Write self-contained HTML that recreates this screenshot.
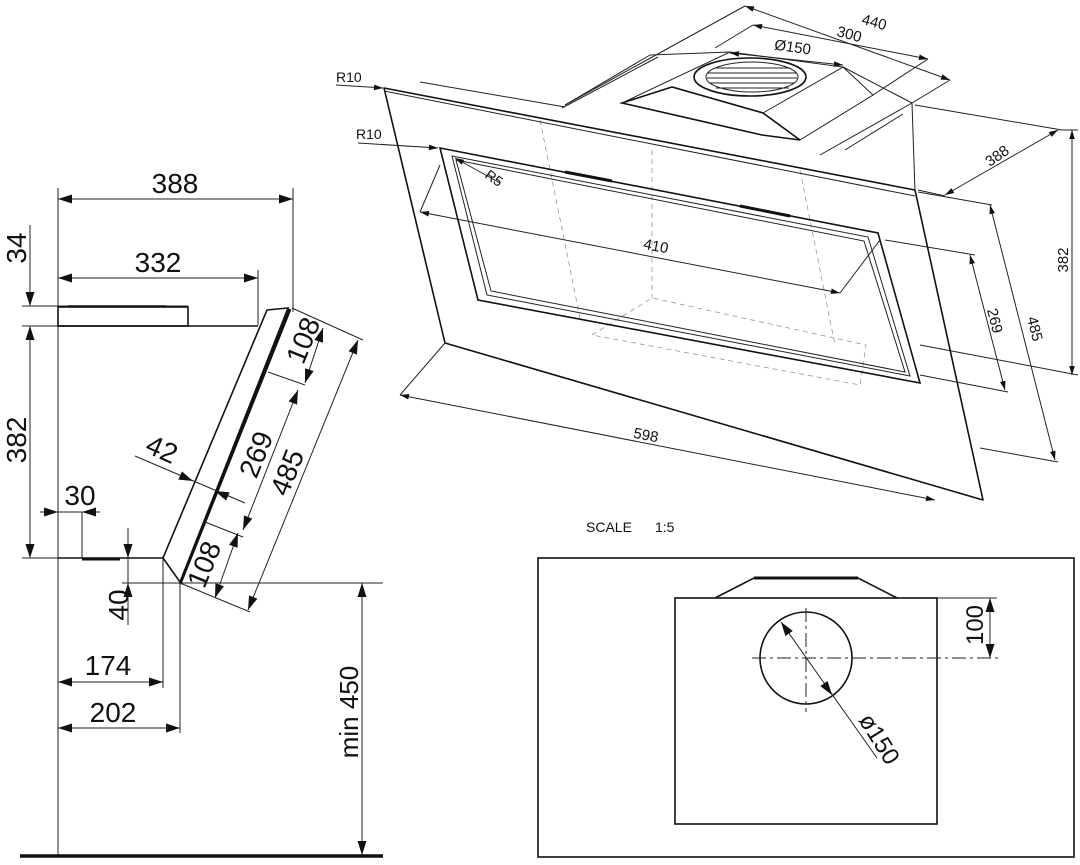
<!DOCTYPE html>
<html><head><meta charset="utf-8"><style>
html,body{margin:0;padding:0;background:#fff;}
svg{display:block}
text{font-family:"Liberation Sans",sans-serif;fill:#111}
.t{stroke:#222;stroke-width:1;fill:none}
.m{stroke:#111;stroke-width:1.6;fill:none}
.k{stroke:#111;stroke-width:3;fill:none}
.d{stroke:#999;stroke-width:0.8;fill:none;stroke-dasharray:5 4}
</style></head><body>
<svg width="1080" height="865" viewBox="0 0 1080 865" xmlns="http://www.w3.org/2000/svg">
<defs>
<path id="ah" d="M0,0 L-14,-4.5 L-14,4.5 z" fill="#111"/>
<path id="sh" d="M0,0 L-9,-2.8 L-9,2.8 z" fill="#111"/>
</defs>

<!-- ===== LEFT SIDE VIEW ===== -->
<line class="t" x1="58" y1="188" x2="58" y2="856"/>
<line class="t" x1="293" y1="188" x2="293" y2="312"/>
<line class="t" x1="258" y1="270" x2="258" y2="325"/>
<line class="t" x1="58" y1="199" x2="293" y2="199"/>
<use href="#ah" transform="translate(58,199) rotate(180)"/><use href="#ah" transform="translate(293,199)"/>
<text x="175" y="193" font-size="28" text-anchor="middle">388</text>
<line class="t" x1="58" y1="278" x2="258" y2="278"/>
<use href="#ah" transform="translate(58,278) rotate(180)"/><use href="#ah" transform="translate(258,278)"/>
<text x="158" y="272" font-size="28" text-anchor="middle">332</text>
<line class="t" x1="30" y1="225" x2="30" y2="306"/>
<use href="#ah" transform="translate(30,306) rotate(90)"/>
<line class="t" x1="30" y1="326" x2="30" y2="558"/>
<use href="#ah" transform="translate(30,326) rotate(-90)"/><use href="#ah" transform="translate(30,558) rotate(90)"/>
<line class="t" x1="22" y1="306" x2="188" y2="306"/>
<line class="t" x1="22" y1="326" x2="60" y2="326"/>
<line class="t" x1="22" y1="558" x2="60" y2="558"/>
<text transform="translate(26,248) rotate(-90)" font-size="28" text-anchor="middle">34</text>
<text transform="translate(26,440) rotate(-90)" font-size="28" text-anchor="middle">382</text>
<rect class="m" x="58" y="307" width="130" height="19"/>
<line class="m" x1="68" y1="306" x2="166" y2="306"/>
<line class="m" x1="58" y1="326" x2="258" y2="326"/>
<line class="m" x1="58" y1="558" x2="163" y2="558"/>
<line class="k" x1="82" y1="559" x2="120" y2="559"/>
<polygon class="m" points="267,310 288,308 180,582 163,558"/>
<line class="k" x1="290" y1="309" x2="180" y2="584"/>
<line class="t" x1="40" y1="512" x2="100" y2="512"/>
<use href="#ah" transform="translate(58,512)"/><use href="#ah" transform="translate(82,512) rotate(180)"/>
<line class="t" x1="82" y1="512" x2="82" y2="558"/>
<text x="80" y="505" font-size="28" text-anchor="middle">30</text>
<line class="t" x1="128" y1="528" x2="128" y2="625"/>
<use href="#ah" transform="translate(128,558) rotate(90)"/><use href="#ah" transform="translate(128,583) rotate(-90)"/>
<line class="t" x1="122" y1="583" x2="383" y2="583"/>
<text transform="translate(128,605) rotate(-90)" font-size="28" text-anchor="middle">40</text>
<line class="t" x1="163" y1="558" x2="163" y2="688"/>
<line class="t" x1="180" y1="583" x2="180" y2="733"/>
<line class="t" x1="58" y1="682" x2="163" y2="682"/>
<use href="#ah" transform="translate(58,682) rotate(180)"/><use href="#ah" transform="translate(163,682)"/>
<text x="108" y="675" font-size="28" text-anchor="middle">174</text>
<line class="t" x1="58" y1="728" x2="180" y2="728"/>
<use href="#ah" transform="translate(58,728) rotate(180)"/><use href="#ah" transform="translate(180,728)"/>
<text x="113" y="722" font-size="28" text-anchor="middle">202</text>
<line class="t" x1="362" y1="583" x2="362" y2="856"/>
<use href="#ah" transform="translate(362,583) rotate(-90)"/><use href="#ah" transform="translate(362,855) rotate(90)"/>
<text transform="translate(358,712) rotate(-90)" font-size="26" text-anchor="middle">min 450</text>
<line x1="20" y1="856" x2="383" y2="856" stroke="#111" stroke-width="3.5"/>
<line class="t" x1="292" y1="308" x2="363" y2="340"/>
<line class="t" x1="180" y1="583" x2="250" y2="612"/>
<line class="t" x1="268" y1="372" x2="305" y2="385"/>
<line class="t" x1="205" y1="522" x2="243" y2="537"/>
<line class="t" x1="358" y1="340" x2="248" y2="610"/>
<use href="#ah" transform="translate(358,340) rotate(-68)"/><use href="#ah" transform="translate(248,610) rotate(112)"/>
<text transform="translate(296,476) rotate(-68)" font-size="28" text-anchor="middle">485</text>
<line class="t" x1="323" y1="328" x2="305" y2="383"/>
<use href="#ah" transform="translate(323,328) rotate(-72)"/><use href="#ah" transform="translate(305,383) rotate(108)"/>
<text transform="translate(312,344) rotate(-68)" font-size="28" text-anchor="middle">108</text>
<line class="t" x1="298" y1="390" x2="243" y2="530"/>
<use href="#ah" transform="translate(298,390) rotate(-68.5)"/><use href="#ah" transform="translate(243,530) rotate(111.5)"/>
<text transform="translate(265,458) rotate(-68)" font-size="28" text-anchor="middle">269</text>
<line class="t" x1="238" y1="533" x2="215" y2="598"/>
<use href="#ah" transform="translate(238,533) rotate(-70.5)"/><use href="#ah" transform="translate(215,598) rotate(109.5)"/>
<text transform="translate(213,568) rotate(-68)" font-size="28" text-anchor="middle">108</text>
<line class="t" x1="135" y1="456" x2="245" y2="503"/>
<use href="#ah" transform="translate(193,481) rotate(23.3)"/><use href="#ah" transform="translate(215,491) rotate(203.3)"/>
<text transform="translate(158,458) rotate(24)" font-size="28" text-anchor="middle">42</text>

<!-- ===== ISOMETRIC VIEW ===== -->
<line class="d" x1="540" y1="120" x2="580" y2="318"/>
<line class="d" x1="800" y1="170" x2="835" y2="345"/>
<line class="d" x1="652" y1="150" x2="652" y2="298"/>
<polyline class="d" points="592,335 652,298 866,345 860,385 592,335"/>
<polyline class="t" points="565,105 650,55"/>
<polyline class="t" points="562,108 658,57"/>
<line class="t" x1="420" y1="82" x2="565" y2="107"/>
<line class="t" x1="845" y1="150" x2="903" y2="114"/>
<line class="t" x1="820" y1="155" x2="912" y2="103"/>
<line class="t" x1="912" y1="103" x2="915" y2="192"/>
<line class="t" x1="650" y1="55" x2="730" y2="52"/>
<line class="t" x1="843" y1="67" x2="912" y2="103"/>
<polygon class="m" points="622,103 672,87 763,113 800,140 762,135"/>
<polyline class="t" points="622,103 730,52 843,67 763,113"/>
<polyline class="t" points="843,67 873,95 800,140"/>
<ellipse cx="750" cy="77" rx="56" ry="19" class="m"/>
<ellipse cx="752" cy="77" rx="46" ry="15" class="t"/>
<g class="t">
<line x1="715" y1="68" x2="790" y2="68"/><line x1="708" y1="73" x2="796" y2="73"/>
<line x1="707" y1="78" x2="797" y2="78"/><line x1="709" y1="83" x2="795" y2="83"/>
<line x1="716" y1="88" x2="789" y2="88"/>
</g>
<polygon class="m" points="384,88 915,190 983,500 445,343" stroke-linejoin="round"/>
<line class="t" x1="384" y1="91" x2="915" y2="196"/>
<polygon class="m" points="440,148 878,233 920,383 478,300"/>
<polygon class="t" points="452,156 868,237 910,376 487,295"/>
<polygon class="t" points="456,160 864,241 905,372 491,291"/>
<line class="k" x1="565" y1="172" x2="612" y2="181" stroke-width="2.5"/>
<line class="k" x1="740" y1="206" x2="790" y2="216" stroke-width="2.5"/>
<line class="t" x1="745" y1="6" x2="950" y2="80"/>
<use href="#sh" transform="translate(745,6) rotate(199.9)"/><use href="#sh" transform="translate(950,80) rotate(19.9)"/>
<line class="t" x1="745" y1="6" x2="565" y2="105"/>
<line class="t" x1="950" y1="80" x2="912" y2="103"/>
<text transform="translate(873,27) rotate(15)" font-size="15" text-anchor="middle">440</text>
<line class="t" x1="753" y1="25" x2="928" y2="59"/>
<use href="#sh" transform="translate(753,25) rotate(191)"/><use href="#sh" transform="translate(928,59) rotate(11)"/>
<line class="t" x1="753" y1="25" x2="715" y2="48"/>
<line class="t" x1="928" y1="59" x2="873" y2="95"/>
<text transform="translate(848,39) rotate(15)" font-size="15" text-anchor="middle">300</text>
<line class="t" x1="730" y1="53" x2="843" y2="65"/>
<use href="#sh" transform="translate(730,53) rotate(186)"/><use href="#sh" transform="translate(843,65) rotate(6)"/>
<text transform="translate(792,52) rotate(8)" font-size="15" text-anchor="middle">Ø150</text>
<line class="t" x1="336" y1="85" x2="383" y2="88"/>
<use href="#sh" transform="translate(383,88) rotate(3.7)"/>
<text x="336" y="82" font-size="14">R10</text>
<line class="t" x1="358" y1="143" x2="438" y2="148"/>
<use href="#sh" transform="translate(438,148) rotate(3.6)"/>
<text x="356" y="139" font-size="14">R10</text>
<line class="t" x1="500" y1="183" x2="455" y2="158"/>
<use href="#sh" transform="translate(455,158) rotate(209)"/>
<text transform="translate(484,177) rotate(35)" font-size="14">R5</text>
<line class="t" x1="420" y1="212" x2="840" y2="293"/>
<use href="#sh" transform="translate(420,212) rotate(190.9)"/><use href="#sh" transform="translate(840,293) rotate(10.9)"/>
<line class="t" x1="420" y1="212" x2="440" y2="165"/>
<line class="t" x1="840" y1="293" x2="880" y2="240"/>
<text transform="translate(655,251) rotate(11)" font-size="15" text-anchor="middle">410</text>
<line class="t" x1="400" y1="395" x2="935" y2="500"/>
<use href="#sh" transform="translate(400,395) rotate(191.1)"/><use href="#sh" transform="translate(935,500) rotate(11.1)"/>
<line class="t" x1="400" y1="395" x2="445" y2="343"/>
<text transform="translate(645,440) rotate(11)" font-size="15" text-anchor="middle">598</text>
<line class="t" x1="945" y1="195" x2="1058" y2="130"/>
<use href="#sh" transform="translate(945,195) rotate(150.1)"/><use href="#sh" transform="translate(1058,130) rotate(-29.9)"/>
<line class="t" x1="918" y1="190" x2="945" y2="196"/>
<line class="t" x1="915" y1="105" x2="1062" y2="130"/>
<text transform="translate(1000,160) rotate(-35)" font-size="15" text-anchor="middle">388</text>
<line class="t" x1="1072" y1="130" x2="1072" y2="375"/>
<use href="#sh" transform="translate(1072,130) rotate(-90)"/><use href="#sh" transform="translate(1072,375) rotate(90)"/>
<line class="t" x1="1062" y1="130" x2="1078" y2="130"/>
<line class="t" x1="920" y1="345" x2="1078" y2="375"/>
<text transform="translate(1068,260) rotate(-90)" font-size="15" text-anchor="middle">382</text>
<line class="t" x1="990" y1="205" x2="1055" y2="460"/>
<use href="#sh" transform="translate(990,205) rotate(-104.3)"/><use href="#sh" transform="translate(1055,460) rotate(75.7)"/>
<line class="t" x1="918" y1="192" x2="992" y2="205"/>
<line class="t" x1="980" y1="448" x2="1058" y2="462"/>
<text transform="translate(1030,330) rotate(76)" font-size="15" text-anchor="middle">485</text>
<line class="t" x1="970" y1="255" x2="1005" y2="390"/>
<use href="#sh" transform="translate(970,255) rotate(-104.5)"/><use href="#sh" transform="translate(1005,390) rotate(75.5)"/>
<line class="t" x1="885" y1="240" x2="975" y2="255"/>
<line class="t" x1="920" y1="375" x2="1008" y2="392"/>
<text transform="translate(990,322) rotate(76)" font-size="15" text-anchor="middle">269</text>

<!-- ===== SCALE VIEW ===== -->
<text x="586" y="532" font-size="14">SCALE</text>
<text x="655" y="532" font-size="14">1:5</text>
<rect x="538" y="558" width="536" height="299" class="m" stroke-width="2"/>
<rect x="675" y="598" width="262" height="226" class="m"/>
<polyline class="m" points="715,598 754,578 858,578 897,598"/>
<line x1="754" y1="578" x2="858" y2="578" stroke="#111" stroke-width="3"/>
<circle cx="806" cy="658" r="46" class="m" stroke-width="2.2"/>
<line class="t" x1="752" y1="658" x2="998" y2="658" stroke-dasharray="14 4 3 4"/>
<line class="t" x1="806" y1="608" x2="806" y2="712" stroke-dasharray="14 4 3 4"/>
<line class="t" x1="781" y1="622" x2="877" y2="758"/>
<use href="#ah" transform="translate(781,622) rotate(234.8)"/><use href="#ah" transform="translate(832,695) rotate(54.8)"/>
<line class="t" x1="937" y1="598" x2="997" y2="598"/>
<line class="t" x1="990" y1="598" x2="990" y2="658"/>
<use href="#ah" transform="translate(990,598) rotate(-90)"/><use href="#ah" transform="translate(990,658) rotate(90)"/>
<text transform="translate(983,625) rotate(-90)" font-size="24" text-anchor="middle">100</text>
<text transform="translate(858,720) rotate(58)" font-size="24">ø150</text>
</svg>
</body></html>
